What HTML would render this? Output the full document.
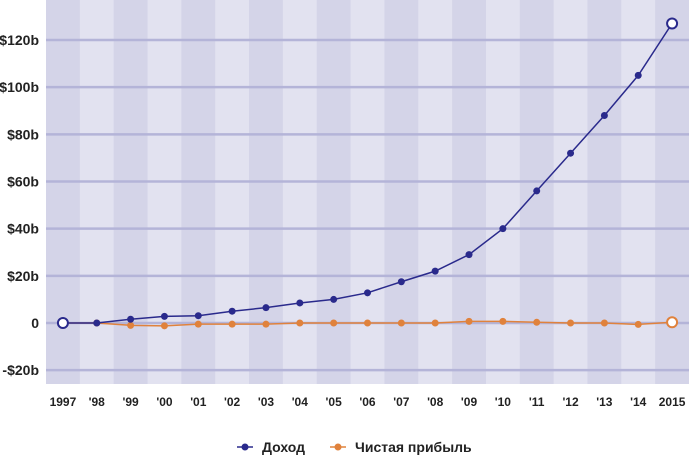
<!DOCTYPE html>
<html><head><meta charset="utf-8"><style>
body{margin:0;background:#fff;width:689px;height:458px;overflow:hidden}
svg text{font-family:"Liberation Sans Narrow","Liberation Sans",sans-serif;font-weight:bold;fill:#222}
</style></head><body>
<svg id="c" width="689" height="458"></svg>
<script>
const years=['1997',"'98","'99","'00","'01","'02","'03","'04","'05","'06","'07","'08","'09","'10","'11","'12","'13","'14",'2015'];
const revenue=[0,0,1.6,2.8,3.1,5,6.5,8.5,10,12.8,17.5,22,29,40,56,72,88,105,127];
const profit=[0,0,-1,-1.2,-0.5,-0.5,-0.5,0,0,0,0,0,0.7,0.7,0.3,0,0,-0.6,0.3];
const yTicks=[-20,0,20,40,60,80,100,120];
const yTickLabels=['-$20b','0','$20b','$40b','$60b','$80b','$100b','$120b'];
const NS='http://www.w3.org/2000/svg';
const svg=document.getElementById('c');
const L=46,R=689,T=0,B=384,bw=(R-L)/years.length;
const x=i=>L+bw*(i+0.5);
const y=v=>323-v*2.3583;
function mk(t,a,p){const e=document.createElementNS(NS,t);for(const k in a)e.setAttribute(k,a[k]);(p||svg).appendChild(e);return e;}
years.forEach((yr,i)=>{
 const r=mk('rect',{x:L+bw*i,y:T,width:bw+0.5,height:B-T,fill:i%2?'#e2e2f0':'#d4d4e8'});
 
 
 const t=mk('text',{x:x(i),y:406,'text-anchor':'middle','font-size':'12'});t.textContent=yr;
 
 
});
yTicks.forEach((v,i)=>{
 const g=mk('line',{x1:L,x2:R,y1:y(v),y2:y(v),stroke:'#b4b4d8','stroke-width':2.5});
 
 
 const t=mk('text',{x:39,y:y(v)+5,'text-anchor':'end','font-size':'14'});t.textContent=yTickLabels[i];
 
 
});
function series(vals,col,name){
 const pl=mk('polyline',{points:vals.map((v,i)=>x(i)+','+y(v)).join(' '),fill:'none',stroke:col,'stroke-width':1.5});
 
 
 vals.forEach((v,i)=>{
  const end=i===0||i===vals.length-1;
  if(name==='profit'&&i===0)return;
  const c=mk('circle',end?{cx:x(i),cy:y(v),r:5,fill:'#fff',stroke:col,'stroke-width':2}:{cx:x(i),cy:y(v),r:3.5,fill:col});
  
  
 });
}
series(profit,'#e0823c','profit');
series(revenue,'#2a2a8c','revenue');
</script>
<svg width="689" height="458" style="position:absolute;left:0;top:0">
<g>
<line x1="237" x2="253" y1="447" y2="447" stroke="#2a2a8c" stroke-width="1.5"/><circle cx="245" cy="447" r="3.5" fill="#2a2a8c"/>
<text x="262" y="452" font-size="14" style="font-family:'Liberation Sans Narrow','Liberation Sans',sans-serif;font-weight:bold;fill:#222">Доход</text></g>
<g>
<line x1="330" x2="346" y1="447" y2="447" stroke="#e0823c" stroke-width="1.5"/><circle cx="338" cy="447" r="3.5" fill="#e0823c"/>
<text x="355" y="452" font-size="14" style="font-family:'Liberation Sans Narrow','Liberation Sans',sans-serif;font-weight:bold;fill:#222">Чистая прибыль</text></g>
</svg>
</body></html>
